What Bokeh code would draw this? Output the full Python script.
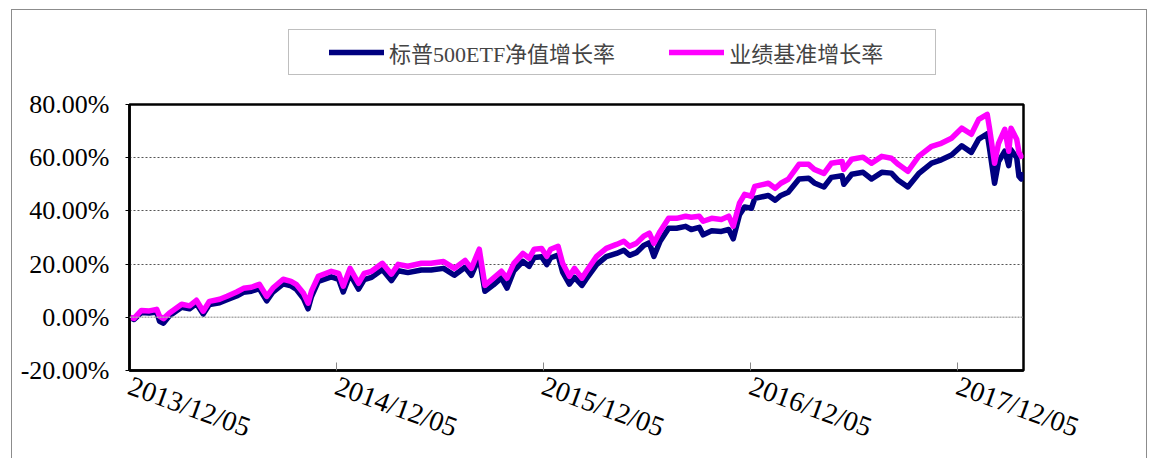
import pandas as pd
from bokeh.plotting import figure
from bokeh.layouts import column
from bokeh.models import (FixedTicker, Span, Legend, LegendItem, Range1d,
                          DatetimeTickFormatter, ColumnDataSource)
from bokeh.embed import file_html
from bokeh.resources import INLINE

series_names = ["标普500ETF净值增长率", "业绩基准增长率"]
series_colors = ["#000080", "#FF00FF"]

dates = [
    "2013-12-05", "2013-12-13", "2013-12-26", "2014-01-09", "2014-01-22", "2014-01-27", "2014-02-03", "2014-02-13", "2014-03-07", "2014-03-21",
    "2014-04-02", "2014-04-14", "2014-04-25", "2014-05-13", "2014-05-26", "2014-06-12", "2014-06-24", "2014-07-08", "2014-07-22", "2014-08-04",
    "2014-08-15", "2014-09-02", "2014-09-16", "2014-09-25", "2014-10-08", "2014-10-16", "2014-10-22", "2014-11-03", "2014-11-26", "2014-12-09",
    "2014-12-17", "2014-12-29", "2015-01-13", "2015-01-23", "2015-02-05", "2015-02-24", "2015-03-12", "2015-03-24", "2015-04-10", "2015-05-04",
    "2015-05-21", "2015-06-12", "2015-07-01", "2015-07-20", "2015-07-31", "2015-08-14", "2015-08-24", "2015-09-08", "2015-09-22", "2015-10-02",
    "2015-10-14", "2015-10-30", "2015-11-10", "2015-11-19", "2015-12-02", "2015-12-11", "2015-12-18", "2015-12-31", "2016-01-08", "2016-01-20",
    "2016-01-29", "2016-02-11", "2016-02-19", "2016-03-08", "2016-03-25", "2016-04-12", "2016-04-25", "2016-05-05", "2016-05-17", "2016-05-30",
    "2016-06-09", "2016-06-17", "2016-06-28", "2016-07-13", "2016-07-27", "2016-08-12", "2016-08-22", "2016-09-05", "2016-09-12", "2016-09-27",
    "2016-10-14", "2016-10-27", "2016-11-04", "2016-11-15", "2016-11-24", "2016-12-06", "2016-12-12", "2017-01-05", "2017-01-17", "2017-01-27",
    "2017-02-09", "2017-02-28", "2017-03-17", "2017-03-27", "2017-04-13", "2017-04-26", "2017-05-15", "2017-05-18", "2017-06-01", "2017-06-21",
    "2017-07-06", "2017-07-24", "2017-08-10", "2017-08-22", "2017-09-08", "2017-09-27", "2017-10-20", "2017-11-06", "2017-11-24", "2017-12-12",
    "2017-12-29", "2018-01-11", "2018-01-26", "2018-01-30", "2018-02-08", "2018-02-15", "2018-02-26", "2018-03-05", "2018-03-09", "2018-03-19",
    "2018-03-23", "2018-03-27", "2018-03-30",
]

# 业绩基准增长率 (%)
bench = [
    0.0, -0.4, 2.6, 2.4, 3.0, 0.4, -0.5, 1.5, 4.9, 4.3,
    6.4, 2.3, 6.0, 6.8, 7.9, 9.5, 10.9, 11.3, 12.4, 7.9,
    11.0, 14.3, 13.5, 12.4, 9.0, 5.3, 9.8, 15.4, 17.3, 16.5,
    11.7, 18.4, 12.8, 16.5, 17.3, 20.3, 16.2, 19.9, 19.2, 20.3,
    20.3, 21.0, 18.4, 21.4, 18.4, 25.6, 12.0, 14.7, 17.3, 14.7,
    20.3, 24.0, 22.2, 25.6, 25.9, 22.9, 25.6, 26.7, 20.3, 15.4,
    18.4, 14.7, 17.3, 22.9, 25.9, 27.4, 28.6, 26.7, 27.8, 30.5,
    31.6, 27.8, 32.3, 37.2, 37.2, 38.0, 37.6, 38.0, 36.1, 37.2,
    36.8, 38.0, 34.2, 42.9, 46.2, 45.5, 49.2, 50.4, 48.5, 50.4,
    51.9, 57.5, 57.5, 55.6, 54.1, 57.9, 58.6, 55.6, 59.4, 60.2,
    57.9, 60.5, 59.8, 57.5, 54.9, 60.5, 64.3, 65.4, 67.3, 71.1,
    68.8, 74.4, 76.3, 71.1, 57.9, 65.4, 70.7, 62.4, 71.1, 66.9,
    62.0, 60.5, 61.3,
]

# 标普500ETF净值增长率 (%)
nav = [
    0.0, -0.8, 1.8, 1.6, 2.0, -1.5, -2.2, 0.5, 3.8, 3.2,
    5.2, 1.2, 4.8, 5.5, 6.6, 8.0, 9.4, 9.8, 10.8, 6.2,
    9.5, 12.6, 11.8, 10.6, 7.0, 3.2, 7.8, 13.5, 15.2, 14.3,
    9.5, 16.2, 10.6, 14.2, 15.0, 18.0, 13.8, 17.5, 16.8, 17.8,
    17.8, 18.4, 15.8, 18.8, 15.8, 22.5, 9.8, 12.2, 14.8, 11.0,
    17.5, 21.0, 19.2, 22.5, 22.8, 19.8, 22.4, 23.4, 17.0, 12.5,
    15.0, 12.0, 14.5, 19.8, 22.8, 24.0, 25.2, 23.3, 24.3, 27.0,
    28.0, 22.9, 28.6, 33.5, 33.5, 34.2, 33.0, 33.8, 31.0, 32.5,
    32.3, 33.0, 29.5, 38.5, 41.5, 41.0, 44.7, 45.8, 44.0, 45.8,
    47.0, 52.0, 52.3, 50.5, 49.0, 52.6, 53.2, 50.0, 53.8, 54.5,
    52.0, 54.5, 54.2, 51.5, 49.0, 54.0, 58.0, 59.2, 61.0, 64.5,
    62.0, 67.0, 69.0, 63.5, 50.4, 58.5, 62.5, 57.0, 63.0, 60.0,
    53.0, 52.0, 54.5,
]

xtick_dates = ["2013-12-05", "2014-12-05", "2015-12-05", "2016-12-05", "2017-12-05"]
x_end = "2018-03-31"
yticks = [-20, 0, 20, 40, 60, 80]
ytick_labels = ["-20.00%", "0.00%", "20.00%", "40.00%", "60.00%", "80.00%"]

SERIF = "'Liberation Serif', 'Noto Sans CJK SC'"
LW = 5.5

src = ColumnDataSource(dict(date=pd.to_datetime(dates), nav=nav, bench=bench))

# ---------------- legend strip (top) ----------------
# its ranges exclude the data, so only the legend itself is visible here
leg = figure(width=1134, height=74, x_range=Range1d(0, 1), y_range=Range1d(0, 1),
             min_border=0, x_axis_location=None, y_axis_location=None,
             output_backend="svg", toolbar_location=None)
leg.outline_line_color = None
leg.grid.grid_line_color = None
leg.border_fill_color = "white"
l1 = leg.line("date", "nav", source=src, line_color=series_colors[0], line_width=LW, line_cap="round")
l2 = leg.line("date", "bench", source=src, line_color=series_colors[1], line_width=LW, line_cap="round")
legend = Legend(items=[LegendItem(label=series_names[0], renderers=[l1]),
                       LegendItem(label=series_names[1], renderers=[l2])],
                orientation="horizontal", location=(159, 9),
                padding=6, spacing=54, glyph_width=55, glyph_height=18,
                label_standoff=5, label_width=200, label_height=20,
                label_text_font=SERIF, label_text_font_size="22px",
                border_line_color="#808080", border_line_width=1,
                background_fill_color="white", background_fill_alpha=1,
                title=" ", title_location="left", title_standoff=32,
                title_text_font_size="2px")
leg.add_layout(legend)

# ---------------- main chart ----------------
p = figure(x_axis_type="datetime", frame_width=894, frame_height=266,
           min_border_left=117, min_border_right=123, min_border_top=20, min_border_bottom=88,
           x_range=Range1d(pd.Timestamp(xtick_dates[0]), pd.Timestamp(x_end)),
           y_range=Range1d(yticks[0], yticks[-1]),
           output_backend="svg", toolbar_location=None)
p.background_fill_color = "white"
p.border_fill_color = "white"
p.outline_line_color = "black"
p.outline_line_width = 2.5

p.line("date", "nav", source=src, line_color=series_colors[0], line_width=LW, line_join="round")
p.line("date", "bench", source=src, line_color=series_colors[1], line_width=LW, line_join="round")

xa = p.xaxis[0]
xa.ticker = FixedTicker(ticks=[pd.Timestamp(d).value / 1e6 for d in xtick_dates])
fmt = "%Y/%m/%d"
xa.formatter = DatetimeTickFormatter(milliseconds=fmt, seconds=fmt, minsec=fmt, minutes=fmt,
                                     hourmin=fmt, hours=fmt, days=fmt, months=fmt, years=fmt)
xa.major_label_orientation = -0.35
xa.major_label_text_font = SERIF
xa.major_label_text_font_size = "28px"
xa.major_label_text_color = "black"
xa.major_label_standoff = 14
xa.major_tick_in = 8
xa.major_tick_out = 0
xa.major_tick_line_color = "#888888"
xa.minor_tick_line_color = None
xa.axis_line_color = "black"
xa.axis_line_width = 2.5

ya = p.yaxis[0]
ya.ticker = FixedTicker(ticks=yticks)
ya.major_label_overrides = {v: s for v, s in zip(yticks, ytick_labels)}
ya.major_label_text_font = SERIF
ya.major_label_text_font_size = "26px"
ya.major_label_text_color = "black"
ya.major_label_standoff = 16
ya.major_tick_in = 0
ya.major_tick_out = 4
ya.major_tick_line_color = "black"
ya.minor_tick_line_color = None
ya.axis_line_color = "black"
ya.axis_line_width = 2.5

p.xgrid.grid_line_color = None
p.ygrid.ticker = FixedTicker(ticks=[20, 40, 60])
p.ygrid.grid_line_color = "#555555"
p.ygrid.grid_line_dash = "2 2"
p.ygrid.grid_line_width = 1
p.add_layout(Span(location=0, dimension="width", line_color="#aaaaaa",
                  line_dash="2 1", line_width=1.5))

layout = column(leg, p, spacing=0)
layout.margin = (9, 0, 0, 11)
layout.styles = {"border": "1px solid #8c8c8c", "background": "white"}

open("out.html", "w").write(file_html(layout, INLINE))
